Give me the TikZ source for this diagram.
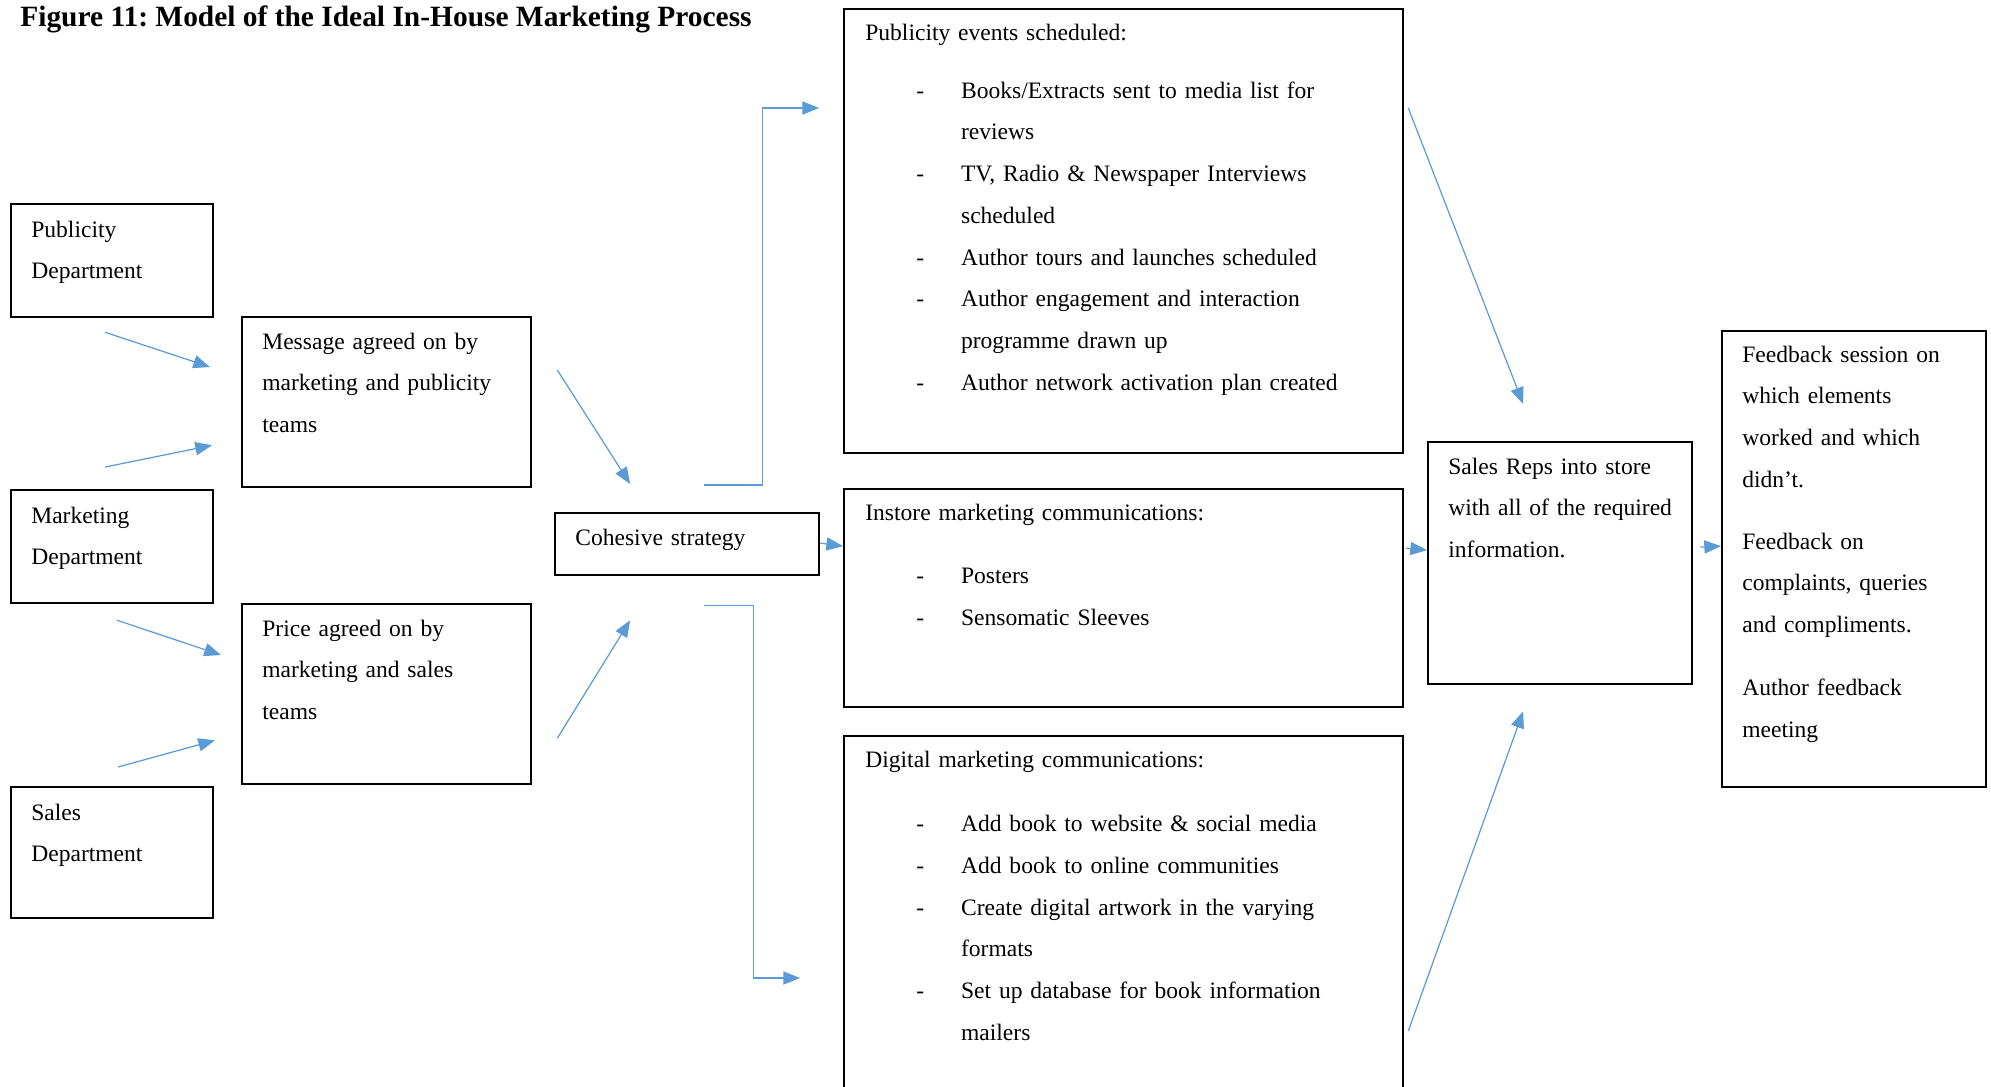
\documentclass[tikz,border=0pt]{standalone}
\usepackage{fontspec}
\setmainfont{Liberation Serif}
\usetikzlibrary{arrows.meta,calc}
\definecolor{arrowblue}{RGB}{91,155,213}
\frenchspacing
% list lines inside the big boxes
\newcommand{\dashline}[1]{\hspace*{29pt}\makebox[25.5pt][l]{-}#1}
\newcommand{\contline}[1]{\hspace*{54.5pt}#1}
\begin{document}
\begin{tikzpicture}[x=0.02cm, y=-0.02cm,
		box/.style 2 args={draw, line width=1.3pt, inner sep=0pt, anchor=north west, minimum width=#1*0.02cm, minimum height=#2*0.02cm},
		txt/.style={anchor=base west, align=left, inner sep=0pt, text width=#1, font=\fontsize{13.4}{23.75}\selectfont},
		arr/.style={-{Triangle[length=9.5pt, width=7.5pt]}, arrowblue, line width=0.7pt}]
		\useasboundingbox (0, 0) rectangle (1991, 1086);
		\node[anchor=base west, inner sep=0pt, font=\fontsize{16.75}{20}\selectfont\bfseries] (title) at (20, 26) {Figure 11: Model of the Ideal In-House Marketing Process};

		% departments
		\node[box={202}{113}] (pub) at (10, 203) {};
		\node[box={202}{113}] (mkt) at (10, 489) {};
		\node[box={202}{131}] (sal) at (10, 786) {};
		\node[txt=160pt] (pubt) at ($(pub.north west)+(21, 34)$) {Publicity\\Department};
		\node[txt=160pt] (mktt) at ($(mkt.north west)+(21, 34)$) {Marketing\\Department};
		\node[txt=160pt] (salt) at ($(sal.north west)+(21, 34)$) {Sales\\Department};

		% agreements and strategy
		\node[box={289}{170}] (msg) at (241, 316) {};
		\node[box={289}{180}] (prc) at (241, 603) {};
		\node[box={264}{62}] (coh) at (554, 512) {};
		\node[txt=200pt] (msgt) at ($(msg.north west)+(21, 33)$) {Message agreed on by\\marketing and publicity\\teams};
		\node[txt=200pt] (prct) at ($(prc.north west)+(21, 33)$) {Price agreed on by\\marketing and sales\\teams};
		\node[txt=140pt] (coht) at ($(coh.north west)+(21, 33)$) {Cohesive strategy};

		% communications
		\node[box={559}{444}] (pev) at (843, 8) {};
		\node[box={559}{218}] (ins) at (843, 488) {};
		\node[box={559}{400}] (dig) at (843, 735) {};
		\node[txt=300pt] (pevt) at ($(pev.north west)+(22, 32)$) {Publicity events scheduled:\\[9.4pt]
			\dashline{Books/Extracts sent to media list for}\\
			\contline{reviews}\\
			\dashline{TV, Radio \& Newspaper Interviews}\\
			\contline{scheduled}\\
			\dashline{Author tours and launches scheduled}\\
			\dashline{Author engagement and interaction}\\
			\contline{programme drawn up}\\
			\dashline{Author network activation plan created}};
		\node[txt=300pt] (inst) at ($(ins.north west)+(22, 32)$) {Instore marketing communications:\\[12.5pt]
			\dashline{Posters}\\
			\dashline{Sensomatic Sleeves}};
		\node[txt=300pt] (digt) at ($(dig.north west)+(22, 32)$) {Digital marketing communications:\\[13pt]
			\dashline{Add book to website \& social media}\\
			\dashline{Add book to online communities}\\
			\dashline{Create digital artwork in the varying}\\
			\contline{formats}\\
			\dashline{Set up database for book information}\\
			\contline{mailers}};

		% store and feedback
		\node[box={264}{242}] (rep) at (1427, 441) {};
		\node[box={264}{456}] (fbk) at (1721, 330) {};
		\node[txt=140pt] (rept) at ($(rep.north west)+(21, 33)$) {Sales Reps into store\\with all of the required\\information.};
		\node[txt=140pt] (fbkt) at ($(fbk.north west)+(21, 32)$) {Feedback session on\\which elements\\worked and which\\didn’t.\\[11.5pt]
			Feedback on\\complaints, queries\\and compliments.\\[12pt]
			Author feedback\\meeting};

		% connectors
		\draw[arr] ($(pub.south)+(-7, 14)$) -- ($(msg.north west)+(-31, 51)$);
		\draw[arr] ($(mkt.north)+(-7, -22)$) -- ($(msg.south west)+(-29, -43)$);
		\draw[arr] ($(mkt.south)+(5, 16)$) -- ($(prc.north west)+(-20, 52)$);
		\draw[arr] ($(sal.north)+(6, -19)$) -- ($(prc.south west)+(-26, -45)$);
		\draw[arr] ($(msg.north east)+(25, 54)$) -- ($(coh.north)+(-57, -28)$);
		\draw[arr] ($(prc.south east)+(25, -47)$) -- ($(coh.south)+(-57, 44)$);
		\draw[arr] ($(coh.north)+(17, -27)$) -- ++(58, 0) |- ($(pev.north west)+(-24, 100)$);
		\draw[arr] ($(coh.east)+(0, -1)$) -- ($(ins.west)+(0, -52)$);
		\draw[arr] ($(coh.south)+(17, 29)$) -- ++(49, 0) |- ($(dig.north west)+(-43, 243)$);
		\draw[arr] ($(pev.north east)+(4, 100)$) -- ($(rep.north)+(-37, -37)$);
		\draw[arr] ($(ins.east)+(2, -50)$) -- ($(rep.west)+(0, -13)$);
		\draw[arr] ($(dig.north east)+(4, 296)$) -- ($(rep.south)+(-37, 26)$);
		\draw[arr] ($(rep.east)+(7, -16)$) -- ($(fbk.west)+(0, -13)$);
	\end{tikzpicture}
\end{document}
